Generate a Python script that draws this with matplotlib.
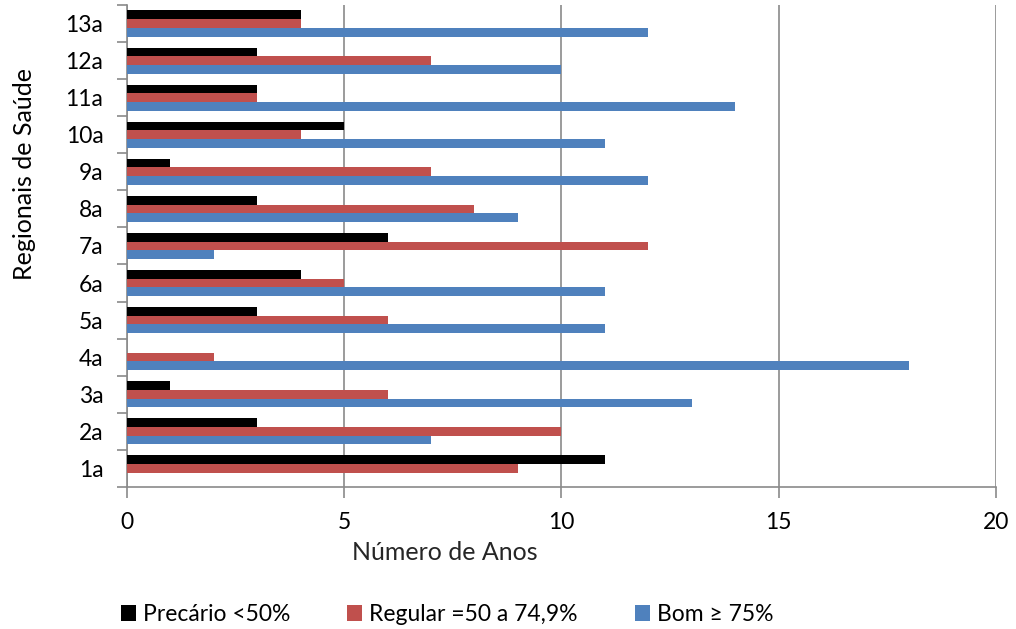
import matplotlib.pyplot as plt
import numpy as np

plt.rcParams['font.family'] = ['Lato', 'DejaVu Sans']

regionais = ["1a", "2a", "3a", "4a", "5a", "6a", "7a", "8a", "9a", "10a", "11a", "12a", "13a"]
precario = [11, 3, 1, 0, 3, 4, 6, 3, 1, 5, 3, 3, 4]
regular = [9, 10, 6, 2, 6, 5, 12, 8, 7, 4, 3, 7, 4]
bom = [0, 7, 13, 18, 11, 11, 2, 9, 12, 11, 14, 10, 12]

series = [
    ("Precário <50%", precario, "#000000"),
    ("Regular =50 a 74,9%", regular, "#C0504D"),
    ("Bom \u2265 75%", bom, "#4F81BD"),
]

fig = plt.figure(figsize=(10.16, 6.29), dpi=100)
ax = fig.add_axes([0.125, 0.226, 0.855, 0.766])

y = np.arange(len(regionais))
h = 0.235
for i, (name, vals, color) in enumerate(series):
    ax.barh(y + (1 - i) * h, vals, height=h, color=color, label=name, zorder=3)

grey = "#8a8a8a"
ax.set_xlim(0, 20)
ax.set_ylim(-0.5, len(regionais) - 0.5)
ax.set_xticks([0, 5, 10, 15, 20])
ax.grid(axis="x", color=grey, linewidth=1.2, zorder=0)

# category labels centred, tick marks on the boundaries
ax.set_yticks(y)
ax.set_yticklabels(regionais)
ax.set_yticks(np.arange(-0.5, len(regionais)), minor=True)
ax.tick_params(axis="y", which="major", length=0, pad=17, labelsize=16.5)
ax.tick_params(axis="y", which="minor", length=7, width=1.2, color=grey)
ax.tick_params(axis="x", length=8, width=1.2, color=grey, pad=10, labelsize=16.5)

for s in ("top", "right"):
    ax.spines[s].set_visible(False)
for s in ("left", "bottom"):
    ax.spines[s].set_color(grey)
    ax.spines[s].set_linewidth(1.2)

ax.set_xlabel("Número de Anos", fontsize=18, color="#262626")
ax.xaxis.set_label_coords(0.366, -0.113)
ax.set_ylabel("Regionais de Saúde", fontsize=18)
ax.yaxis.set_label_coords(-0.105, 0.65)

fig.legend(loc="center", bbox_to_anchor=(0.440, 0.023), ncol=3, frameon=False,
           fontsize=16.5, handlelength=0.65, handleheight=0.65, handletextpad=0.3,
           columnspacing=2.5)

fig.savefig("out.png", dpi=100)
